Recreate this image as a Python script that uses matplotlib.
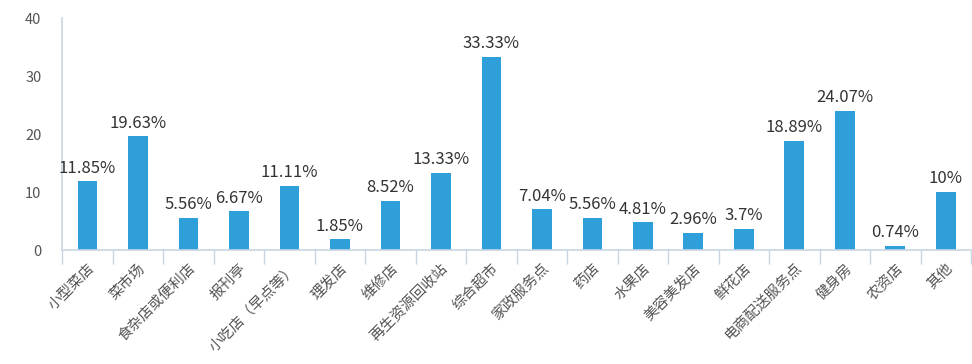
import matplotlib
matplotlib.use("Agg")
import matplotlib.pyplot as plt
import numpy as np

plt.rcParams['font.family'] = ['Noto Sans CJK SC', 'DejaVu Sans']

categories = ["小型菜店", "菜市场", "食杂店或便利店", "报刊亭", "小吃店（早点等）",
              "理发店", "维修店", "再生资源回收站", "综合超市", "家政服务点", "药店",
              "水果店", "美容美发店", "鲜花店", "电商配送服务点", "健身房", "农资店", "其他"]
values = [11.85, 19.63, 5.56, 6.67, 11.11, 1.85, 8.52, 13.33, 33.33, 7.04, 5.56,
          4.81, 2.96, 3.7, 18.89, 24.07, 0.74, 10]
value_labels = ["11.85%", "19.63%", "5.56%", "6.67%", "11.11%", "1.85%", "8.52%",
                "13.33%", "33.33%", "7.04%", "5.56%", "4.81%", "2.96%", "3.7%",
                "18.89%", "24.07%", "0.74%", "10%"]
yticks = [0, 10, 20, 30, 40]

bar_color = "#2E9FD9"
axis_color = "#C9D5E3"

fig = plt.figure(figsize=(9.72, 3.64), dpi=100)
ax = fig.add_axes([0.064, 0.313, 0.935, 0.637])

x = np.arange(len(categories))
bars = ax.bar(x, values, width=0.39, color=bar_color, zorder=2)
for rect, lab in zip(bars, value_labels):
    ax.text(rect.get_x() + rect.get_width() / 2, rect.get_height() + 0.8, lab,
            ha="center", va="bottom", fontsize=12, color="#333333")

ax.set_xlim(-0.5, len(categories) - 0.5)
ax.set_ylim(0, 40)
ax.set_yticks(yticks)
ax.tick_params(axis="y", length=0, pad=15, labelsize=10.5, labelcolor="#555555")

ax.set_xticks(x)
ax.set_xticklabels(categories, rotation=45, ha="right", rotation_mode="anchor",
                   fontsize=10.5, color="#555555")
ax.tick_params(axis="x", which="major", length=0, pad=8)
ax.set_xticks(np.arange(-0.5, len(categories)), minor=True)
ax.tick_params(axis="x", which="minor", length=10, width=1, color=axis_color)

for side in ["top", "right"]:
    ax.spines[side].set_visible(False)
for side in ["left", "bottom"]:
    ax.spines[side].set_color(axis_color)
    ax.spines[side].set_linewidth(1.2)

fig.savefig("out.png", dpi=100)
